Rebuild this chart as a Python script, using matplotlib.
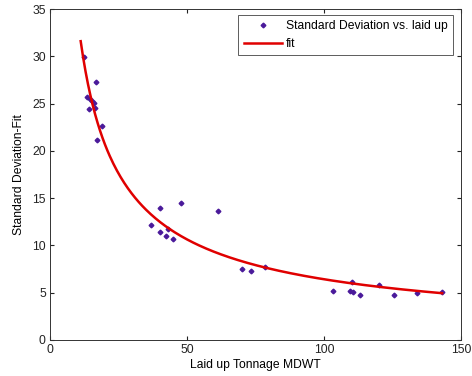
import numpy as np
import matplotlib
matplotlib.use("Agg")
import matplotlib.pyplot as plt

# Scatter data
tonnage = [12.5, 16.7, 13.6, 14.6, 15.4, 15.9, 14.3, 16.4, 19.0, 17.2,
           40.3, 47.9, 61.3, 36.9, 40.0, 43.2, 42.3, 44.9,
           70.0, 73.5, 78.3, 103.3, 110.2, 109.6, 110.6, 113.3, 120.2, 125.7, 134.1, 143.1]
std_dev = [29.9, 27.25, 25.7, 25.5, 25.3, 25.1, 24.4, 24.5, 22.6, 21.1,
           13.96, 14.45, 13.6, 12.16, 11.45, 11.7, 11.03, 10.65,
           7.54, 7.33, 7.75, 5.21, 6.10, 5.21, 5.04, 4.73, 5.85, 4.73, 4.94, 5.08]

# Fit parameters (power law), y = a*x^b
fit_a = 183.3
fit_b = -0.7277
fit_xmin, fit_xmax = 11.2, 143.1

xticks = [0, 50, 100, 150]
yticks = [0, 5, 10, 15, 20, 25, 30, 35]

plt.rcParams['font.family'] = ['Liberation Sans', 'DejaVu Sans']
fs = 8.7
fig = plt.figure(figsize=(4.72, 3.76), dpi=100)
L, R, T, B = 50, 461, 9, 340
ax = fig.add_axes([L/472, 1-B/376, (R-L)/472, (B-T)/376])

ax.plot(tonnage, std_dev, linestyle='none', marker='D', markersize=2.4,
        color='#4a1a9a', label='Standard Deviation vs. laid up')
xf = np.linspace(fit_xmin, fit_xmax, 300)
ax.plot(xf, fit_a * xf**fit_b, color='#e00000', linewidth=1.8, label='fit')

ax.set_xlim(0, 150)
ax.set_ylim(0, 35)
ax.set_xticks(xticks)
ax.set_yticks(yticks)
ax.tick_params(direction='in', labelsize=fs, length=3, top=True, right=True,
               colors='#222222', pad=3)
for s in ax.spines.values():
    s.set_color('#333333')
    s.set_linewidth(0.7)
ax.set_xlabel('Laid up Tonnage MDWT', fontsize=fs, labelpad=2)
ax.set_ylabel('Standard Deviation-Fit', fontsize=fs, labelpad=5)

leg = ax.legend(loc='upper right', fontsize=fs, frameon=True, fancybox=False,
                edgecolor='#333333', borderaxespad=0.0, handlelength=3.15,
                borderpad=0.45, labelspacing=0.45, handletextpad=0.35,
                numpoints=1,
                bbox_to_anchor=((453-L)/(R-L), 1-(15-T)/(B-T)))
leg.get_frame().set_linewidth(0.7)

fig.savefig('out.png', dpi=100)
